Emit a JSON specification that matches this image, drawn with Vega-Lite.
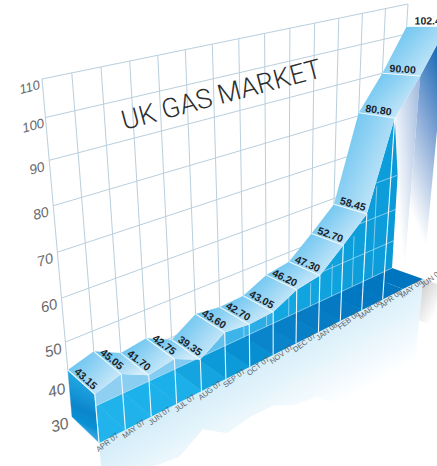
{
  "$schema": "https://vega.github.io/schema/vega-lite/v6.json",
  "width": 437,
  "height": 466,
  "padding": 0,
  "autosize": {"type": "none"},
  "background": "white",
  "config": {"view": {"stroke": null}},
  "data": {"values": [
    {"kind": "month", "u": 0, "month": "APR 07", "value": 43.15, "label": "43.15"},
    {"kind": "month", "u": 1, "month": "MAY 07", "value": 45.05, "label": "45.05"},
    {"kind": "month", "u": 2, "month": "JUN 07", "value": 41.70, "label": "41.70"},
    {"kind": "month", "u": 3, "month": "JUL 07", "value": 42.75, "label": "42.75"},
    {"kind": "month", "u": 4, "month": "AUG 07", "value": 39.35, "label": "39.35"},
    {"kind": "month", "u": 5, "month": "SEP 07", "value": 43.60, "label": "43.60"},
    {"kind": "month", "u": 6, "month": "OCT 07", "value": 42.70, "label": "42.70"},
    {"kind": "month", "u": 7, "month": "NOV 07", "value": 43.05, "label": "43.05", "wallTop": 34},
    {"kind": "month", "u": 8, "month": "DEC 07", "value": 46.20, "label": "46.20", "wallTop": 35},
    {"kind": "month", "u": 9, "month": "JAN 08", "value": 47.30, "label": "47.30", "wallTop": 37},
    {"kind": "month", "u": 10, "month": "FEB 08", "value": 52.70, "label": "52.70", "wallTop": 38},
    {"kind": "month", "u": 11, "month": "MAR 08", "value": 58.45, "label": "58.45", "wallTop": 41},
    {"kind": "month", "u": 12, "month": "APR 08", "value": 80.80, "label": "80.80", "wallTop": 47},
    {"kind": "month", "u": 13, "month": "MAY 08", "value": 90.00, "label": "90.00", "wallTop": 59},
    {"kind": "month", "u": 14, "month": "JUN 08", "value": 102.40, "label": "102.4"},
    {"kind": "tick", "u": 0, "value": 30, "wallFrom": 0},
    {"kind": "tick", "u": 0, "value": 40, "wallFrom": 8.5},
    {"kind": "tick", "u": 0, "value": 50, "wallFrom": 11},
    {"kind": "tick", "u": 0, "value": 60, "wallFrom": 12.4},
    {"kind": "tick", "u": 0, "value": 70},
    {"kind": "tick", "u": 0, "value": 80},
    {"kind": "tick", "u": 0, "value": 90},
    {"kind": "tick", "u": 0, "value": 100},
    {"kind": "tick", "u": 0, "value": 110},
    {"kind": "title", "u": 6.3, "value": 95, "month": "UK GAS MARKET"}
  ]},
  "transform": [
    {"window": [{"op": "lead", "field": "value", "as": "next"}], "groupby": ["kind"], "sort": [{"field": "u", "order": "ascending"}]},
    {"calculate": "datum.kind=='month' ? ['ribbon','front','fade','floor','haze','cap','strip','shadow','gridV','cross','post','throughV','valueLabel','monthLabel'] : datum.kind=='tick' ? ['gridH','throughH','tickLabel'] : ['title']", "as": "parts"},
    {"flatten": ["parts"], "as": ["part"]},
    {"filter": "(indexof(['ribbon','floor'],datum.part)<0 || datum.next!=null) && (datum.part!='front' || datum.u<12) && (datum.part!='fade' || (datum.u>=12 && datum.next!=null)) && (datum.part!='cap' || datum.u==0) && (datum.part!='strip' || datum.u==12) && (datum.part!='shadow' || datum.u==14) && (datum.part!='post' || datum.u<=12) && (datum.part!='throughV' || datum.wallTop!=null) && (datum.part!='throughH' || datum.wallFrom!=null)"},
    {"calculate": "indexof(['ribbon','front','fade','floor','cap','strip','shadow'],datum.part)>=0 ? [0,1,2,3] : indexof(['gridV','gridH','cross','post','throughV','throughH','haze'],datum.part)>=0 ? [0,1] : [0]", "as": "corners"},
    {"flatten": ["corners"], "as": ["k"]},
    {"calculate": "datum.part=='strip' ? [datum.u,14,14,datum.u][datum.k] : datum.part=='gridH' ? [0,14][datum.k] : datum.part=='throughH' ? [datum.wallFrom,14][datum.k] : indexof(['ribbon','front','fade','floor'],datum.part)>=0 ? [datum.u,datum.u+1,datum.u+1,datum.u][datum.k] : datum.u", "as": "a"},
    {"calculate": "datum.part=='ribbon' ? [datum.value,datum.next,datum.next,datum.value][datum.k] : (datum.part=='front'||datum.part=='fade') ? [datum.value,datum.next,30,30][datum.k] : datum.part=='floor' ? 30 : datum.part=='haze' ? [30,60-datum.value][datum.k] : datum.part=='cap' ? [datum.value,datum.value,30,30][datum.k] : datum.part=='strip' ? [datum.value,60,30,30][datum.k] : datum.part=='shadow' ? [30,30,18,18][datum.k] : datum.part=='gridV' ? [30,110][datum.k] : datum.part=='post' ? [30,datum.value][datum.k] : datum.part=='throughV' ? [30,datum.wallTop][datum.k] : datum.part=='monthLabel' ? 30 : datum.value", "as": "b"},
    {"calculate": "(datum.part=='ribbon'||datum.part=='floor') ? [0,0,1,1][datum.k] : indexof(['front','fade','haze','post','monthLabel'],datum.part)>=0 ? 1 : datum.part=='cap' ? [0,1,1,0][datum.k] : datum.part=='strip' ? [1,0,0,1][datum.k] : datum.part=='shadow' ? [1,1.5,1.5,1][datum.k] : datum.part=='cross' ? [0,1][datum.k] : datum.part=='valueLabel' ? 0.5 : 0", "as": "d"},
    {"calculate": "datum.a/14 + 0.15*(datum.a/14)*(1-datum.a/14)", "as": "sp"},
    {"calculate": "(datum.b-30)/80", "as": "t0"},
    {"calculate": "datum.t0<0 ? datum.t0 : datum.t0 - 0.25*datum.t0*(1-datum.t0)*(1-1.6*datum.t0)", "as": "tp"},
    {"calculate": "27 + 4*datum.sp + 10*datum.sp*datum.tp", "as": "ddx"},
    {"calculate": "26 - 15*datum.sp - 12*datum.tp", "as": "ddy"},
    {"calculate": "72+320*datum.sp + (-30+46*datum.sp)*datum.tp + datum.d*datum.ddx", "as": "px"},
    {"calculate": "417-149*datum.sp + (-338+74*datum.sp)*datum.tp + datum.d*datum.ddy", "as": "py"},
    {"calculate": "atan2(datum.ddy,datum.ddx)*180/PI", "as": "ang"},
    {"calculate": "13 + (110-datum.value)/80*3", "as": "tickSize"},
    {"calculate": "datum.part=='haze' ? 'haze' : datum.part + '-' + datum.u + '-' + datum.value", "as": "shape"},
    {"calculate": "datum.part=='haze' ? (datum.k==0 ? datum.u : 100-datum.u) : datum.k", "as": "seq"}
  ],
  "encoding": {
    "x": {"field": "px", "type": "quantitative", "scale": {"domain": [0, 437], "nice": false, "zero": false}, "axis": null},
    "y": {"field": "py", "type": "quantitative", "scale": {"domain": [466, 0], "nice": false, "zero": false}, "axis": null},
    "order": {"field": "seq", "type": "quantitative"},
    "detail": {"field": "shape"}
  },
  "resolve": {"scale": {"fill": "independent"}},
  "layer": [
    {
      "transform": [{"filter": "datum.part=='haze'"}],
      "mark": {"type": "line", "fill": {"gradient": "linear", "x1": 0, "y1": 0.68, "x2": 0.2, "y2": 0.957, "stops": [{"offset": 0, "color": "#d4edf9"}, {"offset": 0.85, "color": "#ffffff"}]}, "strokeWidth": 0}
    },
    {
      "transform": [{"filter": "datum.part=='shadow'"}],
      "mark": {"type": "line", "fill": {"gradient": "linear", "x1": 0, "y1": 0, "x2": 0.6, "y2": 0.9, "stops": [{"offset": 0, "color": "#c8c8c8"}, {"offset": 1, "color": "#ffffff"}]}, "strokeWidth": 0}
    },
    {
      "transform": [{"filter": "datum.part=='gridV' || datum.part=='gridH'"}],
      "mark": {"type": "line", "stroke": "#b9cfdd", "strokeWidth": 1}
    },
    {
      "transform": [{"filter": "datum.part=='fade' && datum.u==12"}],
      "mark": {"type": "line", "fill": {"gradient": "linear", "x1": 1, "y1": 0, "x2": 0, "y2": 0.6, "stops": [{"offset": 0, "color": "#9db8de"}, {"offset": 0.7, "color": "#ffffff"}]}, "strokeWidth": 0}
    },
    {
      "transform": [{"filter": "datum.part=='fade' && datum.u==13"}],
      "mark": {"type": "line", "fill": {"gradient": "linear", "x1": 0.6, "y1": 0, "x2": 0.3, "y2": 0.75, "stops": [{"offset": 0, "color": "#1668b4"}, {"offset": 0.45, "color": "#86a8d6"}, {"offset": 1, "color": "#ffffff"}]}, "strokeWidth": 0}
    },
    {
      "transform": [{"filter": "datum.part=='strip'"}],
      "mark": {"type": "line", "fill": "#0a9ad8", "strokeWidth": 0}
    },
    {
      "transform": [{"filter": "datum.part=='front'"}],
      "mark": {"type": "line", "strokeWidth": 0},
      "encoding": {"fill": {"field": "u", "type": "quantitative", "legend": null, "scale": {"domain": [0, 3, 5, 7, 12], "range": ["#8fd0f2", "#7fcaf0", "#3db5ea", "#14a6e0", "#0a9bd8"]}}}
    },
    {
      "transform": [{"filter": "datum.part=='floor'"}],
      "mark": {"type": "line", "strokeWidth": 0},
      "encoding": {"fill": {"field": "u", "type": "quantitative", "legend": null, "scale": {"domain": [0, 3, 5, 7, 9, 13], "range": ["#20b3ec", "#1cb0ea", "#0c9ad8", "#0a84ca", "#077cc4", "#0075bf"]}}}
    },
    {
      "transform": [{"filter": "datum.part=='throughV' || datum.part=='throughH'"}],
      "mark": {"type": "line", "stroke": "#d8f0fb", "strokeOpacity": 0.55, "strokeWidth": 1}
    },
    {
      "transform": [{"filter": "datum.part=='cap'"}],
      "mark": {"type": "line", "fill": {"gradient": "linear", "x1": 0.6, "y1": 0, "x2": 0.4, "y2": 1, "stops": [{"offset": 0, "color": "#2cb4ec"}, {"offset": 0.55, "color": "#0b86cc"}, {"offset": 0.72, "color": "#0a90d4"}, {"offset": 1, "color": "#6cc8f0"}]}, "stroke": "#d5eefa", "strokeWidth": 0.6}
    },
    {
      "transform": [{"filter": "datum.part=='ribbon'"}],
      "mark": {"type": "line", "fill": {"gradient": "linear", "x1": 0, "y1": 0, "x2": 1, "y2": 0.7, "stops": [{"offset": 0, "color": "#56bdee"}, {"offset": 0.45, "color": "#8bd0f3"}, {"offset": 1, "color": "#d3ecfa"}]}, "strokeWidth": 0}
    },
    {
      "transform": [{"filter": "datum.part=='post' || datum.part=='cross'"}],
      "mark": {"type": "line", "stroke": "#eef8fd", "strokeWidth": 1.1}
    },
    {
      "transform": [{"filter": "datum.part=='valueLabel'"}],
      "mark": {"type": "text", "font": "Liberation Sans", "fontWeight": "bold", "fontSize": 10.5, "fill": "#1c2226", "baseline": "alphabetic", "align": "center", "dx": 1, "dy": -2},
      "encoding": {
        "text": {"field": "label"},
        "angle": {"field": "ang", "type": "quantitative", "scale": null}
      }
    },
    {
      "transform": [{"filter": "datum.part=='monthLabel'"}],
      "mark": {"type": "text", "font": "Liberation Sans", "fontSize": 7.5, "fill": "#5f6366", "angle": 323, "align": "center", "baseline": "middle", "dx": 7, "dy": 5},
      "encoding": {"text": {"field": "month"}}
    },
    {
      "transform": [{"filter": "datum.part=='tickLabel'"}],
      "mark": {"type": "text", "font": "Liberation Sans", "fontStyle": "italic", "fill": "#68696b", "angle": 345, "align": "center", "baseline": "middle", "dx": -14, "dy": 5},
      "encoding": {
        "text": {"field": "value", "type": "quantitative", "format": "d"},
        "size": {"field": "tickSize", "type": "quantitative", "scale": null}
      }
    },
    {
      "transform": [{"filter": "datum.part=='title'"}],
      "mark": {"type": "text", "font": "Roboto", "fontWeight": 300, "fontSize": 27, "fill": "#2c2e30", "angle": 345, "align": "center", "baseline": "middle"},
      "encoding": {"text": {"field": "month"}}
    }
  ]
}
